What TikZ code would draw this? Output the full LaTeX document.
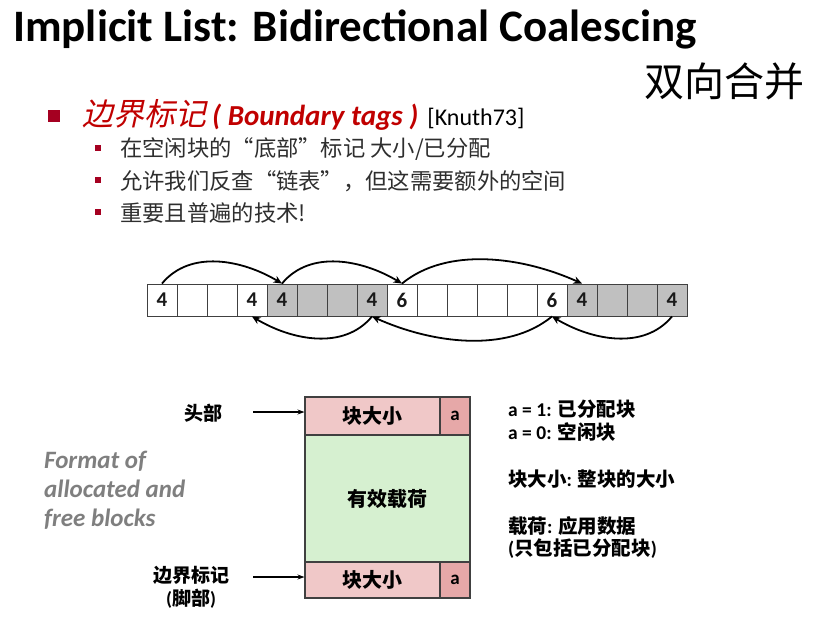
\documentclass[tikz,border=0pt]{standalone}
\usepackage{fontspec}
\setmainfont{Carlito}
\newfontfamily\cjk{Noto Sans CJK SC}
\newfontfamily\cjkslant{Noto Sans CJK SC}[FakeSlant=0.22]
\usetikzlibrary{arrows.meta}

\definecolor{bulletred}{HTML}{A50021}
\definecolor{headred}{HTML}{C00000}
\definecolor{cellgray}{HTML}{C0C0C0}
\definecolor{hdrpink}{HTML}{F0C8C8}
\definecolor{apink}{HTML}{E6A8A8}
\definecolor{paygreen}{HTML}{D6F0D0}
\definecolor{notegray}{HTML}{7F7F7F}
\definecolor{edgegray}{HTML}{404040}

\newcommand{\fs}[1]{\fontsize{#1pt}{1.2\dimexpr#1pt\relax}\selectfont}

\begin{document}
\begin{tikzpicture}[x=1pt,y=-1pt,
  cellbox/.style={draw=edgegray, line width=0.9pt, minimum width=30pt, minimum height=32pt,
    inner sep=0pt, font=\fs{21}\bfseries, text=black!90},
  link/.style={line width=1.8pt, -{Stealth[length=8.5pt,width=7.5pt]}},
  bigsq/.style={fill=bulletred, minimum size=11.5pt, inner sep=0pt},
  smallsq/.style={fill=bulletred, minimum size=6.5pt, inner sep=0pt},
  subitem/.style={anchor=west, inner sep=0pt, font=\fs{22.3}\cjk, text=black!82},
  part/.style={draw=edgegray, line width=1.1pt, inner sep=0pt, font=\fs{20}\bfseries\cjk},
  tagarrow/.style={line width=1.3pt, -{Stealth[length=7pt,width=5pt]}},
  note/.style={anchor=west, inner sep=0pt, font=\fs{19.5}\bfseries},
  caption/.style={anchor=base west, inner sep=0pt, text=notegray, font=\fs{25}\bfseries\itshape},
]
\useasboundingbox (0,0) rectangle (838,624);

% title
\node[anchor=base west, inner sep=0pt, font=\fs{45}\bfseries] (title) at (13,41)
  {Implicit List: Bidirectional Coalescing};
\node[anchor=base west, inner sep=0pt, font=\fs{40}\cjk] (subtitle) at (644,96) {双向合并};

% bullets
\node[bigsq] (b0) at (54,116) {};
\node[anchor=base west, inner sep=0pt, text=headred] (t0) at (82,125)
  {{\fs{31}\cjkslant 边界标记}\hspace{6pt}{\fs{29}\bfseries\itshape ( Boundary tags )}\hspace{9pt}{\fs{24}\color{black}[Knuth73]}};

\node[smallsq] (b1) at (98,148) {};
\node[smallsq] (b2) at (98,180) {};
\node[smallsq] (b3) at (98,212) {};
\node[subitem] (t1) at (120,149) {在空闲块的“底部”标记 大小/已分配};
\node[subitem] (t2) at (120,181) {允许我们反查“链表”，但这需要额外的空间};
\node[subitem] (t3) at (120,213) {重要且普遍的技术!};

% heap row
\foreach \i/\v/\f in {0/4/white,1/{}/white,2/{}/white,3/4/white,
                       4/4/cellgray,5/{}/cellgray,6/{}/cellgray,7/4/cellgray,
                       8/6/white,9/{}/white,10/{}/white,11/{}/white,12/{}/white,13/6/white,
                       14/4/cellgray,15/{}/cellgray,16/{}/cellgray,17/4/cellgray}
  \node[cellbox, fill=\f] (c\i) at (162+30*\i,300) {\v};

% forward links (headers)
\draw[link] (c0.north) .. controls +(28,-34) and +(-40,-24) .. (c4.north);
\draw[link] (c4.north) .. controls +(28,-34) and +(-40,-24) .. (c8.north);
\draw[link] (c8.north) .. controls +(45,-37) and +(-60,-27) .. (c14.north);
% backward links (footers)
\draw[link] (c17.south) .. controls +(-28,34) and +(40,24) .. (c13.south);
\draw[link] (c13.south) .. controls +(-45,37) and +(60,27) .. (c7.south);
\draw[link] (c7.south) .. controls +(-28,34) and +(40,24) .. (c3.south);

% block format
\node[part, fill=hdrpink, minimum width=135pt, minimum height=38pt] (hdr) at (372.5,416) {块大小};
\node[part, fill=apink, minimum width=30pt, minimum height=38pt, font=\fs{19}\bfseries] (ahdr) at (455,416) {a};
\node[part, fill=paygreen, minimum width=165pt, minimum height=127pt] (pay) at (387.5,498.5) {有效载荷};
\node[part, fill=hdrpink, minimum width=135pt, minimum height=36pt] (ftr) at (372.5,580) {块大小};
\node[part, fill=apink, minimum width=30pt, minimum height=36pt, font=\fs{19}\bfseries] (aftr) at (455,580) {a};

% tag labels
\node[inner sep=0pt, font=\fs{19}\bfseries\cjk] (lhead) at (203,413) {头部};
\node[inner sep=0pt, align=center, font=\fs{19}\bfseries\cjk] (lfoot) at (191,587)
  {边界标记\\{\fontspec{Carlito}(}脚部{\fontspec{Carlito})}};
\coordinate (hs) at (253,412);
\coordinate (fs) at (253,577);
\draw[tagarrow] (hs) -- (hs -| hdr.west);
\draw[tagarrow] (fs) -- (fs -| ftr.west);

% legend
\node[note] (n1) at (508,409) {a = 1: {\cjk 已分配块}};
\node[note] (n2) at (508,432) {a = 0: {\cjk 空闲块}};
\node[note] (n3) at (508,479) {{\cjk 块大小}: {\cjk 整块的大小}};
\node[note] (n4) at (508,526) {{\cjk 载荷}: {\cjk 应用数据}};
\node[note] (n5) at (508,549) {({\cjk 只包括已分配块})};

% side caption
\node[caption] (cap1) at (44,468) {Format of};
\node[caption] (cap2) at (44,497) {allocated and};
\node[caption] (cap3) at (44,526) {free blocks};
\end{tikzpicture}
\end{document}
